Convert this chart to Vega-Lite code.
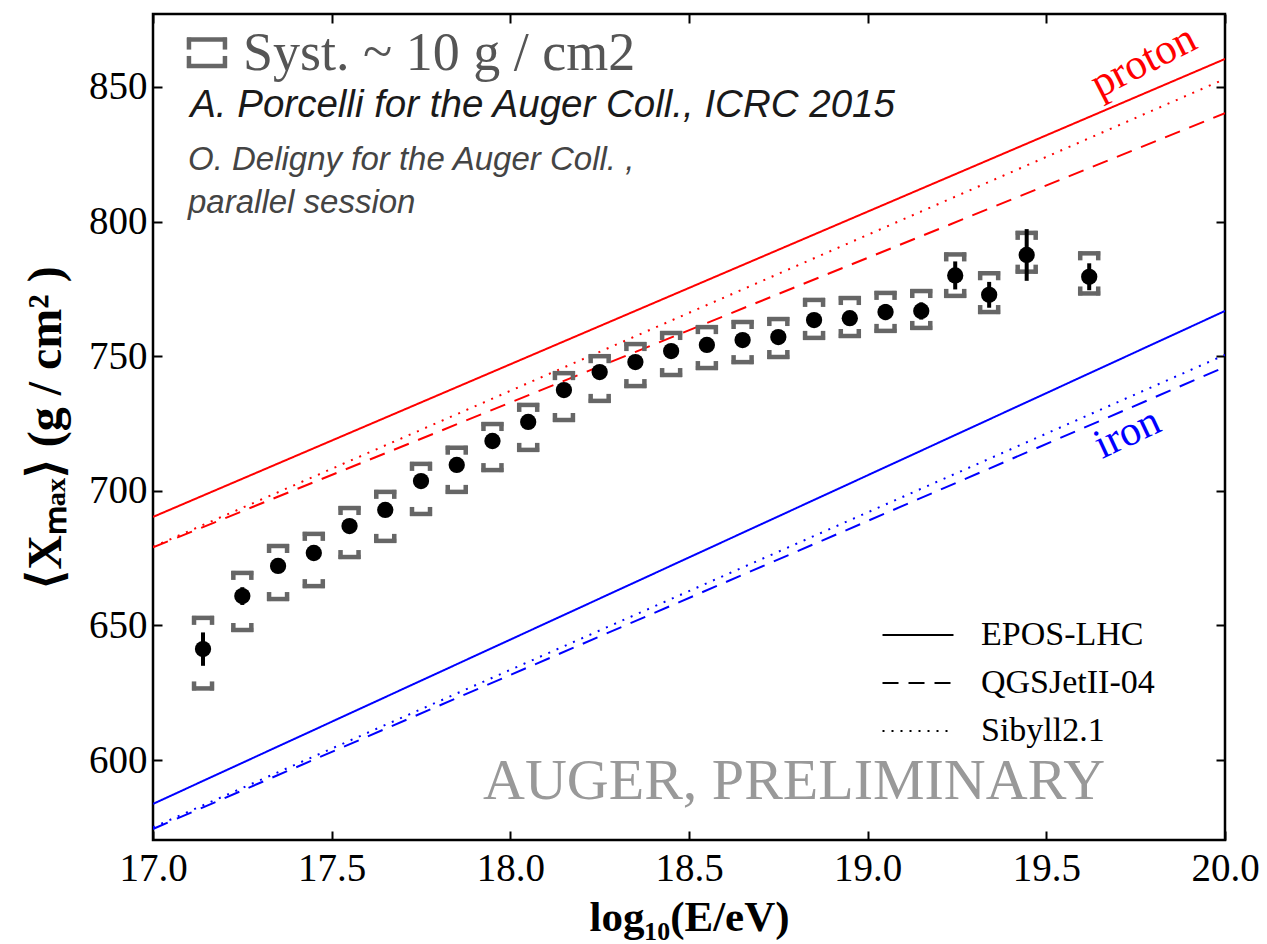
{
  "$schema": "https://vega.github.io/schema/vega-lite/v6.json",
  "width": 1072,
  "height": 826,
  "autosize": {"type": "none"},
  "padding": {"left": 153, "top": 14, "right": 42, "bottom": 104},
  "background": "white",
  "config": {
    "view": {"stroke": "black", "strokeWidth": 2.5},
    "tick": {"opacity": 1},
    "axis": {
      "grid": false,
      "domain": false,
      "tickColor": "black",
      "tickWidth": 2,
      "tickSize": -9,
      "labelFont": "Liberation Serif",
      "labelFontSize": 39,
      "labelColor": "black",
      "titleFont": "Liberation Serif",
      "titleFontWeight": "bold",
      "titleFontSize": 40,
      "titleColor": "black"
    }
  },
  "datasets": {
    "models": [
      {"primary": "proton", "model": "EPOS-LHC", "lgE": 17.0, "xmax": 690.3},
      {"primary": "proton", "model": "EPOS-LHC", "lgE": 20.0, "xmax": 860.4},
      {"primary": "proton", "model": "QGSJetII-04", "lgE": 17.0, "xmax": 679.0},
      {"primary": "proton", "model": "QGSJetII-04", "lgE": 20.0, "xmax": 840.3},
      {"primary": "proton", "model": "Sibyll2.1", "lgE": 17.0, "xmax": 679.2},
      {"primary": "proton", "model": "Sibyll2.1", "lgE": 20.0, "xmax": 853.0},
      {"primary": "iron", "model": "EPOS-LHC", "lgE": 17.0, "xmax": 583.7},
      {"primary": "iron", "model": "EPOS-LHC", "lgE": 20.0, "xmax": 766.8},
      {"primary": "iron", "model": "QGSJetII-04", "lgE": 17.0, "xmax": 574.4},
      {"primary": "iron", "model": "QGSJetII-04", "lgE": 20.0, "xmax": 746.0},
      {"primary": "iron", "model": "Sibyll2.1", "lgE": 17.0, "xmax": 575.0},
      {"primary": "iron", "model": "Sibyll2.1", "lgE": 20.0, "xmax": 750.5}
    ],
    "auger": [
      {"lgE": 17.14, "xmax": 641.2, "stat_lo": 635.0, "stat_hi": 647.4, "sys_lo": 626.6, "sys_hi": 652.8},
      {"lgE": 17.25, "xmax": 660.9, "stat_lo": 657.6, "stat_hi": 664.2, "sys_lo": 648.3, "sys_hi": 669.5},
      {"lgE": 17.35, "xmax": 672.1, "stat_lo": 670.1, "stat_hi": 674.1, "sys_lo": 659.8, "sys_hi": 679.5},
      {"lgE": 17.45, "xmax": 676.9, "stat_lo": 674.9, "stat_hi": 678.9, "sys_lo": 664.6, "sys_hi": 684.0},
      {"lgE": 17.55, "xmax": 686.9, "stat_lo": 684.9, "stat_hi": 688.9, "sys_lo": 675.4, "sys_hi": 693.6},
      {"lgE": 17.65, "xmax": 692.9, "stat_lo": 690.9, "stat_hi": 694.9, "sys_lo": 681.4, "sys_hi": 699.6},
      {"lgE": 17.75, "xmax": 703.6, "stat_lo": 701.6, "stat_hi": 705.6, "sys_lo": 691.4, "sys_hi": 710.0},
      {"lgE": 17.85, "xmax": 709.6, "stat_lo": 707.6, "stat_hi": 711.6, "sys_lo": 699.6, "sys_hi": 716.0},
      {"lgE": 17.95, "xmax": 718.5, "stat_lo": 716.5, "stat_hi": 720.5, "sys_lo": 707.7, "sys_hi": 724.8},
      {"lgE": 18.05, "xmax": 725.6, "stat_lo": 723.6, "stat_hi": 727.6, "sys_lo": 715.2, "sys_hi": 731.9},
      {"lgE": 18.15, "xmax": 737.4, "stat_lo": 735.4, "stat_hi": 739.4, "sys_lo": 726.3, "sys_hi": 743.7},
      {"lgE": 18.25, "xmax": 744.1, "stat_lo": 742.1, "stat_hi": 746.1, "sys_lo": 733.4, "sys_hi": 750.0},
      {"lgE": 18.35, "xmax": 747.8, "stat_lo": 745.8, "stat_hi": 749.8, "sys_lo": 738.9, "sys_hi": 754.5},
      {"lgE": 18.45, "xmax": 751.9, "stat_lo": 749.9, "stat_hi": 753.9, "sys_lo": 743.0, "sys_hi": 758.6},
      {"lgE": 18.55, "xmax": 754.2, "stat_lo": 752.2, "stat_hi": 756.2, "sys_lo": 745.6, "sys_hi": 760.8},
      {"lgE": 18.65, "xmax": 756.0, "stat_lo": 753.5, "stat_hi": 758.5, "sys_lo": 747.8, "sys_hi": 762.7},
      {"lgE": 18.75, "xmax": 757.1, "stat_lo": 754.6, "stat_hi": 759.6, "sys_lo": 749.7, "sys_hi": 763.8},
      {"lgE": 18.85, "xmax": 763.4, "stat_lo": 760.9, "stat_hi": 765.9, "sys_lo": 756.8, "sys_hi": 770.9},
      {"lgE": 18.95, "xmax": 764.1, "stat_lo": 761.6, "stat_hi": 766.6, "sys_lo": 757.5, "sys_hi": 771.6},
      {"lgE": 19.05, "xmax": 766.4, "stat_lo": 763.4, "stat_hi": 769.4, "sys_lo": 759.4, "sys_hi": 773.5},
      {"lgE": 19.15, "xmax": 766.8, "stat_lo": 763.6, "stat_hi": 770.0, "sys_lo": 760.5, "sys_hi": 774.2},
      {"lgE": 19.245, "xmax": 780.0, "stat_lo": 774.8, "stat_hi": 785.2, "sys_lo": 772.4, "sys_hi": 787.8},
      {"lgE": 19.34, "xmax": 772.8, "stat_lo": 768.0, "stat_hi": 777.6, "sys_lo": 766.4, "sys_hi": 780.8},
      {"lgE": 19.445, "xmax": 787.6, "stat_lo": 778.0, "stat_hi": 797.2, "sys_lo": 781.4, "sys_hi": 795.8},
      {"lgE": 19.62, "xmax": 779.5, "stat_lo": 774.5, "stat_hi": 784.5, "sys_lo": 773.3, "sys_hi": 788.2}
    ],
    "systKey": [
      {"lgE": 17.151, "sys_lo": 857.8, "sys_hi": 867.6}
    ]
  },
  "layer": [
    {
      "data": {"name": "models"},
      "mark": {"type": "line", "strokeWidth": 2, "clip": true},
      "encoding": {
        "x": {
          "field": "lgE", "type": "quantitative",
          "scale": {"domain": [17, 20], "nice": false, "zero": false},
          "axis": {
            "orient": "bottom",
            "values": [17, 17.5, 18, 18.5, 19, 19.5, 20],
            "format": ".1f",
            "labelPadding": 18,
            "labelFlush": false,
            "title": "log₁₀(E/eV)",
            "titleFontSize": 43,
            "titlePadding": 8
          }
        },
        "y": {
          "field": "xmax", "type": "quantitative",
          "scale": {"domain": [570.3, 877.1], "nice": false, "zero": false},
          "axis": {
            "orient": "left",
            "values": [600, 650, 700, 750, 800, 850],
            "labelPadding": 15,
            "title": "⟨Xₘₐₓ⟩    (g / cm²  )",
            "titleFontSize": 48,
            "titlePadding": 18
          }
        },
        "color": {
          "field": "primary", "type": "nominal",
          "scale": {"domain": ["proton", "iron"], "range": ["#ff0000", "#0000ff"]},
          "legend": null
        },
        "strokeDash": {
          "field": "model", "type": "nominal",
          "scale": {
            "domain": ["EPOS-LHC", "QGSJetII-04", "Sibyll2.1"],
            "range": [[1, 0], [16, 10], [2, 7]]
          },
          "legend": {
            "orient": "none",
            "legendX": 746,
            "legendY": 602,
            "title": null,
            "padding": 0,
            "symbolType": "M-2,0H2",
            "symbolSize": 1260,
            "symbolStrokeColor": "black",
            "symbolStrokeWidth": 2,
            "symbolFillColor": "transparent",
            "labelFont": "Liberation Serif",
            "labelFontSize": 34,
            "labelColor": "black",
            "labelOffset": 44,
            "rowPadding": 12,
            "labelLimit": 400
          }
        }
      }
    },
    {
      "data": {"name": "models"},
      "mark": {"type": "line", "opacity": 0},
      "encoding": {
        "x": {
          "field": "lgE", "type": "quantitative",
          "axis": {"orient": "top", "values": [17, 17.5, 18, 18.5, 19, 19.5, 20], "labels": false, "title": null}
        },
        "y": {
          "field": "xmax", "type": "quantitative",
          "axis": {"orient": "right", "values": [600, 650, 700, 750, 800, 850], "labels": false, "title": null}
        },
        "detail": {"field": "model"}
      }
    },
    {
      "data": {"name": "auger"},
      "mark": {"type": "tick", "orient": "horizontal", "size": 22, "thickness": 4.5, "color": "#666666"},
      "encoding": {
        "x": {"field": "lgE", "type": "quantitative", "axis": null},
        "y": {"field": "sys_hi", "type": "quantitative", "axis": null}
      }
    },
    {
      "data": {"name": "auger"},
      "mark": {"type": "tick", "orient": "horizontal", "size": 22, "thickness": 4.5, "color": "#666666"},
      "encoding": {
        "x": {"field": "lgE", "type": "quantitative", "axis": null},
        "y": {"field": "sys_lo", "type": "quantitative", "axis": null}
      }
    },
    {
      "data": {"name": "auger"},
      "mark": {"type": "tick", "orient": "vertical", "size": 9, "thickness": 4.5, "color": "#666666", "xOffset": -9, "yOffset": 2.5},
      "encoding": {
        "x": {"field": "lgE", "type": "quantitative", "axis": null},
        "y": {"field": "sys_hi", "type": "quantitative", "axis": null}
      }
    },
    {
      "data": {"name": "auger"},
      "mark": {"type": "tick", "orient": "vertical", "size": 9, "thickness": 4.5, "color": "#666666", "xOffset": 9, "yOffset": 2.5},
      "encoding": {
        "x": {"field": "lgE", "type": "quantitative", "axis": null},
        "y": {"field": "sys_hi", "type": "quantitative", "axis": null}
      }
    },
    {
      "data": {"name": "auger"},
      "mark": {"type": "tick", "orient": "vertical", "size": 9, "thickness": 4.5, "color": "#666666", "xOffset": -9, "yOffset": -2.5},
      "encoding": {
        "x": {"field": "lgE", "type": "quantitative", "axis": null},
        "y": {"field": "sys_lo", "type": "quantitative", "axis": null}
      }
    },
    {
      "data": {"name": "auger"},
      "mark": {"type": "tick", "orient": "vertical", "size": 9, "thickness": 4.5, "color": "#666666", "xOffset": 9, "yOffset": -2.5},
      "encoding": {
        "x": {"field": "lgE", "type": "quantitative", "axis": null},
        "y": {"field": "sys_lo", "type": "quantitative", "axis": null}
      }
    },
    {
      "data": {"name": "systKey"},
      "mark": {"type": "tick", "orient": "horizontal", "size": 40, "thickness": 4.5, "color": "#666666"},
      "encoding": {
        "x": {"field": "lgE", "type": "quantitative", "axis": null},
        "y": {"field": "sys_hi", "type": "quantitative", "axis": null}
      }
    },
    {
      "data": {"name": "systKey"},
      "mark": {"type": "tick", "orient": "horizontal", "size": 40, "thickness": 4.5, "color": "#666666"},
      "encoding": {
        "x": {"field": "lgE", "type": "quantitative", "axis": null},
        "y": {"field": "sys_lo", "type": "quantitative", "axis": null}
      }
    },
    {
      "data": {"name": "systKey"},
      "mark": {"type": "tick", "orient": "vertical", "size": 12, "thickness": 4.5, "color": "#666666", "xOffset": -18, "yOffset": 4},
      "encoding": {
        "x": {"field": "lgE", "type": "quantitative", "axis": null},
        "y": {"field": "sys_hi", "type": "quantitative", "axis": null}
      }
    },
    {
      "data": {"name": "systKey"},
      "mark": {"type": "tick", "orient": "vertical", "size": 12, "thickness": 4.5, "color": "#666666", "xOffset": 18, "yOffset": 4},
      "encoding": {
        "x": {"field": "lgE", "type": "quantitative", "axis": null},
        "y": {"field": "sys_hi", "type": "quantitative", "axis": null}
      }
    },
    {
      "data": {"name": "systKey"},
      "mark": {"type": "tick", "orient": "vertical", "size": 12, "thickness": 4.5, "color": "#666666", "xOffset": -18, "yOffset": -4},
      "encoding": {
        "x": {"field": "lgE", "type": "quantitative", "axis": null},
        "y": {"field": "sys_lo", "type": "quantitative", "axis": null}
      }
    },
    {
      "data": {"name": "systKey"},
      "mark": {"type": "tick", "orient": "vertical", "size": 12, "thickness": 4.5, "color": "#666666", "xOffset": 18, "yOffset": -4},
      "encoding": {
        "x": {"field": "lgE", "type": "quantitative", "axis": null},
        "y": {"field": "sys_lo", "type": "quantitative", "axis": null}
      }
    },
    {
      "data": {"name": "auger"},
      "mark": {"type": "rule", "strokeWidth": 4, "color": "black"},
      "encoding": {
        "x": {"field": "lgE", "type": "quantitative", "axis": null},
        "y": {"field": "stat_lo", "type": "quantitative", "axis": null},
        "y2": {"field": "stat_hi"}
      }
    },
    {
      "data": {"name": "auger"},
      "mark": {"type": "circle", "size": 265, "color": "black", "opacity": 1},
      "encoding": {
        "x": {"field": "lgE", "type": "quantitative", "axis": null},
        "y": {"field": "xmax", "type": "quantitative", "axis": null}
      }
    },
    {
      "data": {"values": [{"lgE": 17.252, "xmax": 856.3, "note": "Syst. ~ 10 g / cm2"}]},
      "mark": {"type": "text", "align": "left", "baseline": "alphabetic", "font": "Liberation Serif", "fontSize": 54, "color": "#555555"},
      "encoding": {
        "x": {"field": "lgE", "type": "quantitative", "axis": null},
        "y": {"field": "xmax", "type": "quantitative", "axis": null},
        "text": {"field": "note"}
      }
    },
    {
      "data": {"values": [{"lgE": 17.104, "xmax": 838.9, "note": "A. Porcelli for the Auger Coll., ICRC 2015"}]},
      "mark": {"type": "text", "align": "left", "baseline": "alphabetic", "font": "Liberation Sans", "fontStyle": "italic", "fontSize": 38.5, "color": "#1a1a1a"},
      "encoding": {
        "x": {"field": "lgE", "type": "quantitative", "axis": null},
        "y": {"field": "xmax", "type": "quantitative", "axis": null},
        "text": {"field": "note"}
      }
    },
    {
      "data": {"values": [
        {"lgE": 17.098, "xmax": 819.2, "note": "O. Deligny for the Auger Coll. ,"},
        {"lgE": 17.098, "xmax": 803.2, "note": "parallel session"}
      ]},
      "mark": {"type": "text", "align": "left", "baseline": "alphabetic", "font": "Liberation Sans", "fontStyle": "italic", "fontSize": 33, "color": "#444444"},
      "encoding": {
        "x": {"field": "lgE", "type": "quantitative", "axis": null},
        "y": {"field": "xmax", "type": "quantitative", "axis": null},
        "text": {"field": "note"}
      }
    },
    {
      "data": {"values": [{"lgE": 19.772, "xmax": 859.5, "note": "proton"}]},
      "mark": {"type": "text", "align": "center", "baseline": "middle", "font": "Liberation Serif", "fontSize": 43, "color": "#ff0000", "angle": -27},
      "encoding": {
        "x": {"field": "lgE", "type": "quantitative", "axis": null},
        "y": {"field": "xmax", "type": "quantitative", "axis": null},
        "text": {"field": "note"}
      }
    },
    {
      "data": {"values": [{"lgE": 19.726, "xmax": 721.5, "note": "iron"}]},
      "mark": {"type": "text", "align": "center", "baseline": "middle", "font": "Liberation Serif", "fontSize": 42, "color": "#0000ff", "angle": -25},
      "encoding": {
        "x": {"field": "lgE", "type": "quantitative", "axis": null},
        "y": {"field": "xmax", "type": "quantitative", "axis": null},
        "text": {"field": "note"}
      }
    },
    {
      "data": {"values": [{"lgE": 18.794, "xmax": 585.6, "note": "AUGER, PRELIMINARY"}]},
      "mark": {"type": "text", "align": "center", "baseline": "alphabetic", "font": "Liberation Serif", "fontSize": 58, "color": "#999999"},
      "encoding": {
        "x": {"field": "lgE", "type": "quantitative", "axis": null},
        "y": {"field": "xmax", "type": "quantitative", "axis": null},
        "text": {"field": "note"}
      }
    }
  ],
  "resolve": {"axis": {"x": "independent", "y": "independent"}}
}
